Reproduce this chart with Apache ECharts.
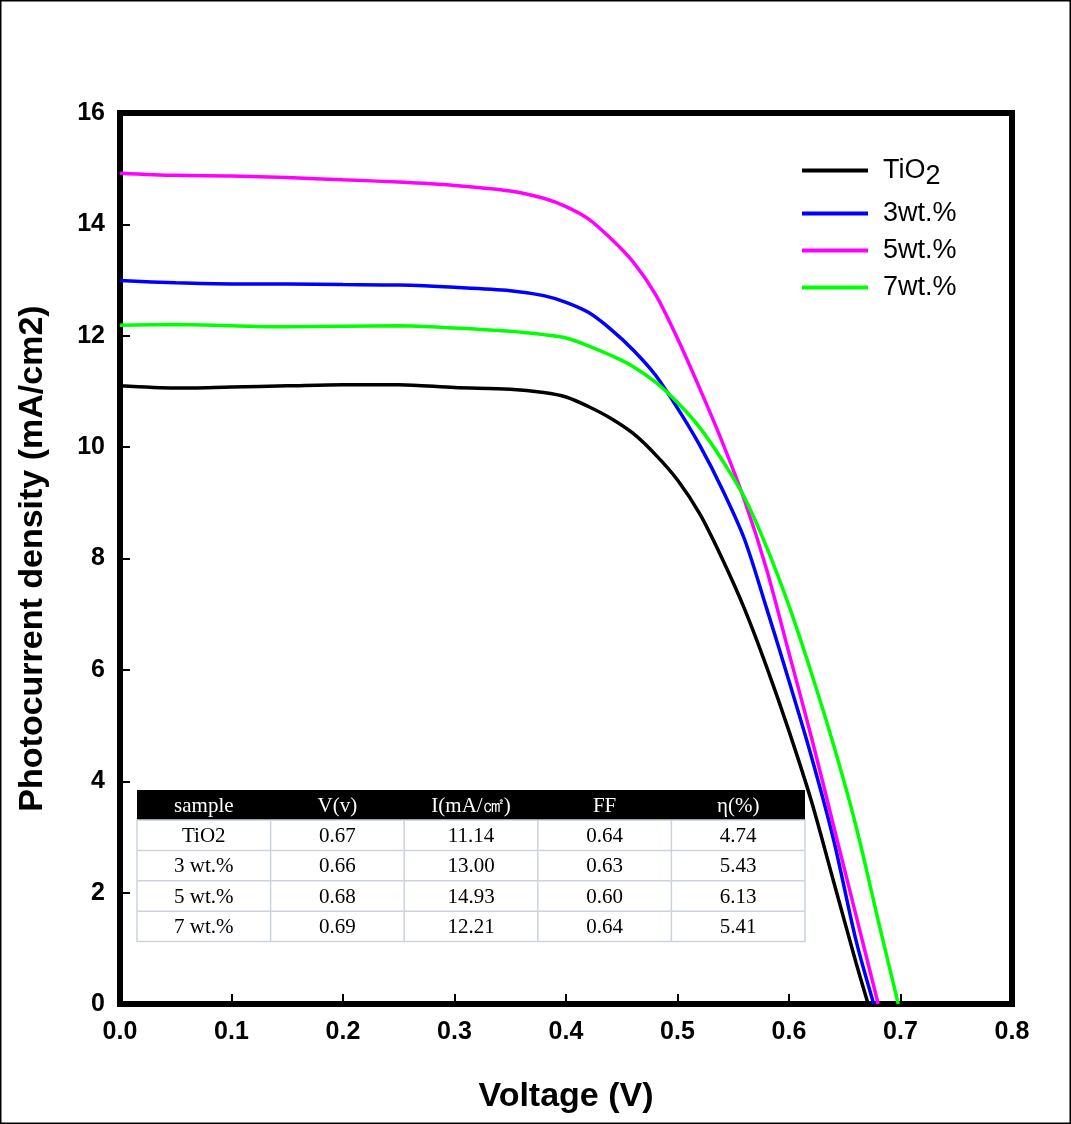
<!DOCTYPE html>
<html lang="en">
  <head>
    <meta charset="UTF-8" />
    <title>J-V curves</title>
    <style>
      html, body { margin: 0; padding: 0; background: #fff; }
      #main { width: 1071px; height: 1124px; }
    </style>
  </head>
  <body>
    <div id="main"></div>

    <script src="https://cdn.jsdelivr.net/npm/echarts@6/dist/echarts.min.js"></script>
    <script>
      // J-V curves: voltage (V) -> photocurrent density (mA/cm2)
      const seriesNames = ['TiO2', '3wt.%', '5wt.%', '7wt.%']
      const seriesColors = ['#000000', '#0000ff', '#ff00ff', '#00ff00']

      const voltTiO2 = [0, 0.05, 0.1, 0.15, 0.2, 0.25, 0.3, 0.35, 0.38, 0.4, 0.42, 0.44, 0.46, 0.48, 0.5, 0.52, 0.54, 0.56, 0.58, 0.6, 0.62, 0.64, 0.66, 0.671]
      const currTiO2 = [11.1, 11.06, 11.08, 11.1, 11.12, 11.12, 11.07, 11.04, 10.98, 10.9, 10.73, 10.52, 10.25, 9.87, 9.41, 8.8, 8.0, 7.1, 6.05, 4.9, 3.65, 2.2, 0.75, 0]

      const volt3 = [0, 0.05, 0.1, 0.15, 0.2, 0.25, 0.3, 0.35, 0.38, 0.4, 0.42, 0.44, 0.46, 0.48, 0.5, 0.52, 0.54, 0.56, 0.58, 0.6, 0.62, 0.64, 0.66, 0.676]
      const curr3 = [12.99, 12.95, 12.93, 12.93, 12.92, 12.91, 12.87, 12.81, 12.72, 12.6, 12.42, 12.12, 11.75, 11.3, 10.7, 10.03, 9.25, 8.35, 7.1, 5.8, 4.45, 2.95, 1.15, 0]

      const volt5 = [0, 0.05, 0.1, 0.15, 0.2, 0.25, 0.3, 0.35, 0.38, 0.4, 0.42, 0.44, 0.46, 0.48, 0.5, 0.52, 0.54, 0.56, 0.58, 0.6, 0.62, 0.64, 0.66, 0.68]
      const curr5 = [14.92, 14.88, 14.87, 14.84, 14.8, 14.76, 14.7, 14.6, 14.47, 14.32, 14.1, 13.75, 13.33, 12.75, 11.95, 11.05, 10.1, 9.05, 7.8, 6.3, 4.8, 3.2, 1.6, 0]

      const volt7 = [0, 0.05, 0.1, 0.15, 0.2, 0.25, 0.3, 0.35, 0.38, 0.4, 0.42, 0.44, 0.46, 0.48, 0.5, 0.52, 0.54, 0.56, 0.58, 0.6, 0.62, 0.64, 0.66, 0.68, 0.698]
      const curr7 = [12.19, 12.2, 12.18, 12.16, 12.17, 12.18, 12.14, 12.08, 12.02, 11.96, 11.82, 11.65, 11.45, 11.17, 10.8, 10.35, 9.77, 9.1, 8.2, 7.15, 5.95, 4.65, 3.2, 1.5, 0]

      // inset table
      const tableHead = ['sample', 'V(v)', 'I(mA/\u33A0)', 'FF', '\u03B7(%)']
      const tableRows = [
        ['TiO2', '0.67', '11.14', '0.64', '4.74'],
        ['3 wt.%', '0.66', '13.00', '0.63', '5.43'],
        ['5 wt.%', '0.68', '14.93', '0.60', '6.13'],
        ['7 wt.%', '0.69', '12.21', '0.64', '5.41']
      ]

      const allVolts = [voltTiO2, volt3, volt5, volt7]
      const allCurr = [currTiO2, curr3, curr5, curr7]

      const chart = echarts.init(document.getElementById('main'))

      // table graphic
      const tX = 137, tY = 790, colW = 133.6, headH = 30, rowH = 30.4
      const tW = colW * 5
      const tableFont = '21px "Liberation Serif", serif'
      const tableEls = []
      tableEls.push({ type: 'rect', shape: { x: tX, y: tY, width: tW, height: headH }, style: { fill: '#000' } })
      tableEls.push({ type: 'rect', shape: { x: tX, y: tY + headH, width: tW, height: rowH * 4 }, style: { fill: '#fff', stroke: '#ccd3dd', lineWidth: 1.5 } })
      for (let r = 1; r < 4; r++) {
        tableEls.push({ type: 'line', shape: { x1: tX, y1: tY + headH + rowH * r, x2: tX + tW, y2: tY + headH + rowH * r }, style: { stroke: '#ccd3dd', lineWidth: 1.5 } })
      }
      for (let c = 1; c < 5; c++) {
        tableEls.push({ type: 'line', shape: { x1: tX + colW * c, y1: tY + headH, x2: tX + colW * c, y2: tY + headH + rowH * 4 }, style: { stroke: '#ccd3dd', lineWidth: 1.5 } })
      }
      tableHead.forEach((h, c) => {
        tableEls.push({
          type: 'text',
          x: tX + colW * (c + 0.5), y: tY + headH / 2 + 1,
          style: { text: h, fill: '#fff', font: tableFont, align: 'center', verticalAlign: 'middle' }
        })
      })
      tableRows.forEach((row, r) => {
        row.forEach((v, c) => {
          tableEls.push({
            type: 'text',
            x: tX + colW * (c + 0.5), y: tY + headH + rowH * (r + 0.5) + 1,
            style: { text: v, fill: '#000', font: tableFont, align: 'center', verticalAlign: 'middle' }
          })
        })
      })

      const option = {
        backgroundColor: '#fff',
        animation: false,
        textStyle: { fontFamily: '"Liberation Sans", Arial, sans-serif' },
        grid: {
          left: 120, right: 59, top: 113, bottom: 120,
          show: true, borderColor: '#000', borderWidth: 6
        },
        legend: {
          orient: 'vertical',
          left: 797, top: 152,
          itemWidth: 66, itemHeight: 4, itemGap: 10,
          icon: 'rect',
          textStyle: {
            fontSize: 27, color: '#000', padding: [0, 0, 0, 10],
            rich: {
              n: { fontSize: 27, color: '#000' },
              s: { fontSize: 27, color: '#000', verticalAlign: 'bottom', padding: [12, 0, 0, 0] }
            }
          },
          formatter(name) {
            if (name === 'TiO2') return '{n|TiO}{s|2}'
            return name
          },
          data: seriesNames
        },
        xAxis: {
          type: 'value',
          min: 0, max: 0.8, interval: 0.1,
          name: 'Voltage (V)',
          nameLocation: 'middle',
          nameGap: 76,
          nameTextStyle: { fontSize: 34, fontWeight: 'bold', color: '#000' },
          axisLine: { show: true, onZero: false, lineStyle: { color: '#000', width: 6 } },
          axisTick: { show: true, inside: true, length: 10, lineStyle: { color: '#000', width: 2 } },
          axisLabel: {
            margin: 16, fontSize: 25, fontWeight: 'bold', color: '#000',
            formatter: (v) => v.toFixed(1)
          },
          splitLine: { show: false }
        },
        yAxis: {
          type: 'value',
          min: 0, max: 16, interval: 2,
          name: 'Photocurrent density (mA/cm2)',
          nameLocation: 'middle',
          nameGap: 70,
          nameTextStyle: { fontSize: 34, fontWeight: 'bold', color: '#000' },
          axisLine: { show: true, onZero: false, lineStyle: { color: '#000', width: 6 } },
          axisTick: { show: true, inside: true, length: 10, lineStyle: { color: '#000', width: 2 } },
          axisLabel: { margin: 15, fontSize: 25, fontWeight: 'bold', color: '#000' },
          splitLine: { show: false }
        },
        series: seriesNames.map((name, i) => ({
          name,
          type: 'line',
          showSymbol: false,
          smooth: 0.3,
          color: seriesColors[i],
          lineStyle: { width: 3.5, color: seriesColors[i] },
          data: allVolts[i].map((v, k) => [v, allCurr[i][k]]),
          z: 3
        })),
        graphic: [
          { type: 'rect', shape: { x: 0.75, y: 0.75, width: 1069.5, height: 1122.5 }, style: { fill: null, stroke: '#000', lineWidth: 1.5 }, z: 100 },
          { type: 'group', children: tableEls, z: 50 }
        ]
      }
      chart.setOption(option)
    </script>
  </body>
</html>
